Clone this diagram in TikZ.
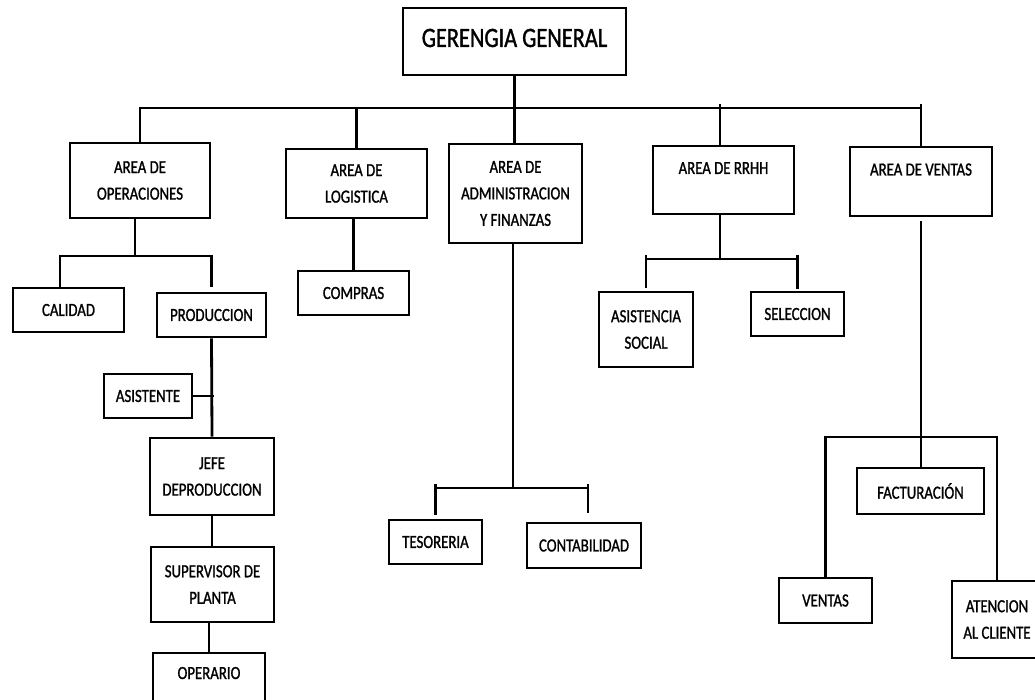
\documentclass[tikz,border=0pt]{standalone}
\usepackage{fontspec}
\setmainfont{Carlito}[FakeStretch=0.8, FakeBold=1.2]
\usetikzlibrary{calc}
\begin{document}
\begin{tikzpicture}[x=1pt,y=-1pt,
  orgbox/.style={draw, line width=2.8pt, align=center, inner sep=1pt,
                 font=\fontsize{18.5}{26.5}\selectfont},
  conn/.style={line width=2.8pt},
  lifted/.style={text height=12pt, text depth=#1}]
\useasboundingbox (0,0) rectangle (1035,700);

% ---- top level
\node[orgbox, minimum width=223pt, minimum height=67pt,
      font=\fontsize{28}{34}\selectfont, text height=18pt, text depth=7pt]
      (gg) at (514.5,41.5) {GERENGIA GENERAL};

% ---- areas
\node[orgbox, minimum width=140pt, minimum height=75pt] (ops) at (140,180.5) {AREA DE\\OPERACIONES};
\node[orgbox, minimum width=141pt, minimum height=69pt] (log) at (356.5,183.5) {AREA DE\\LOGISTICA};
\node[orgbox, minimum width=133pt, minimum height=99pt] (adm) at (515.5,193.5) {AREA DE\\ADMINISTRACION\\Y FINANZAS};
\node[orgbox, lifted=24pt, minimum width=141pt, minimum height=68pt] (rrhh) at (723.5,180) {AREA DE RRHH};
\node[orgbox, lifted=24pt, minimum width=142pt, minimum height=69pt] (ven) at (921,181.5) {AREA DE VENTAS};

% ---- operations branch
\node[orgbox, minimum width=111pt, minimum height=44pt] (cal) at (68.5,310) {CALIDAD};
\node[orgbox, minimum width=109pt, minimum height=44pt] (prod) at (211.5,315) {PRODUCCION};
\node[orgbox, minimum width=88pt, minimum height=44pt] (asis) at (148,396) {ASISTENTE};
\node[orgbox, minimum width=124pt, minimum height=77pt] (jefe) at (212,476.5) {JEFE\\DEPRODUCCION};
\node[orgbox, minimum width=123pt, minimum height=75pt] (sup) at (212.5,584.5) {SUPERVISOR DE\\PLANTA};
\node[orgbox, lifted=40pt, minimum width=112pt, minimum height=80pt] (oper) at (209,693) {OPERARIO};

% ---- logistics branch
\node[orgbox, minimum width=111pt, minimum height=44pt] (comp) at (353.5,293) {COMPRAS};

% ---- administration branch
\node[orgbox, minimum width=93pt, minimum height=44pt] (tes) at (435.5,542) {TESORERIA};
\node[orgbox, minimum width=114pt, minimum height=45pt] (cont) at (584,545.5) {CONTABILIDAD};

% ---- human resources branch
\node[orgbox, minimum width=94pt, minimum height=75pt] (asoc) at (646,329.5) {ASISTENCIA\\SOCIAL};
\node[orgbox, minimum width=93pt, minimum height=44pt] (sel) at (797.5,314) {SELECCION};

% ---- sales branch
\node[orgbox, minimum width=127pt, minimum height=46pt] (fact) at (920.5,491) {FACTURACIÓN};
\node[orgbox, minimum width=93pt, minimum height=45pt] (vtas) at (825.5,600.5) {VENTAS};
\node[orgbox, minimum width=90pt, minimum height=77pt] (aten) at (997,619.5) {ATENCION\\AL CLIENTE};

% ---- bus levels
\coordinate (bus) at (0,108);
\coordinate (opsbus) at (0,256);
\coordinate (admbus) at (0,488);
\coordinate (rrhhbus) at (0,259);
\coordinate (venbus) at (0,437);

% ---- main bus
\draw[conn] (gg.south) -- (gg.south |- adm.north);
\draw[conn] (ops.north) |- (ven.north |- bus) -- (ven.north);
\draw[conn] ($(ven.north |- bus)+(0,-4)$) -- (ven.north |- bus);
\draw[conn] (log.north) -- (log.north |- bus);
\coordinate (rrhhtop) at ($(rrhh.north)+(-3.5,0)$);
\draw[conn] (rrhhtop) -- ($(rrhhtop |- bus)+(0,-4)$);

% ---- operations
\coordinate (opsdrop) at ($(ops.south)+(-5,0)$);
\coordinate (caltop) at ($(cal.north)+(-8.5,0)$);
\draw[conn] (opsdrop) -- (opsdrop |- opsbus);
\draw[conn, shorten >=5pt] (caltop) |- (prod.north |- opsbus) -- (prod.north);
\draw[conn] (prod.south) -- (jefe.north);
\draw[conn] (asis.east) -- ($(asis.east -| prod.south)+(2,0)$);
\draw[conn] (jefe.south) -- (jefe.south |- sup.north);
\draw[conn] (oper.north |- sup.south) -- (oper.north);

% ---- logistics
\draw[conn] (log.south -| comp.north) -- (comp.north);

% ---- administration
\coordinate (admdrop) at ($(adm.south)+(-2.5,0)$);
\coordinate (conttop) at ($(cont.north)+(4,0)$);
\draw[conn] (admdrop) -- (admdrop |- admbus);
\draw[conn] (tes.north |- admbus) -- (conttop |- admbus);
\draw[conn, shorten >=4pt] ($(tes.north |- admbus)+(0,-4)$) -- (tes.north);
\draw[conn, shorten >=9pt] ($(conttop |- admbus)+(0,-4)$) -- (conttop);

% ---- human resources
\coordinate (rrhhdrop) at ($(rrhh.south)+(-3.5,0)$);
\draw[conn] (rrhhdrop) -- (rrhhdrop |- rrhhbus);
\draw[conn] (asoc.north |- rrhhbus) -- (sel.north |- rrhhbus);
\draw[conn, shorten >=3pt] ($(asoc.north |- rrhhbus)+(0,-4)$) -- (asoc.north);
\draw[conn, shorten >=2pt] ($(sel.north |- rrhhbus)+(0,-4)$) -- (sel.north);

% ---- sales
\draw[conn, shorten <=4pt] (ven.south) -- (ven.south |- fact.north);
\draw[conn] (vtas.north) |- (aten.north |- venbus) -- (aten.north);
\end{tikzpicture}
\end{document}
